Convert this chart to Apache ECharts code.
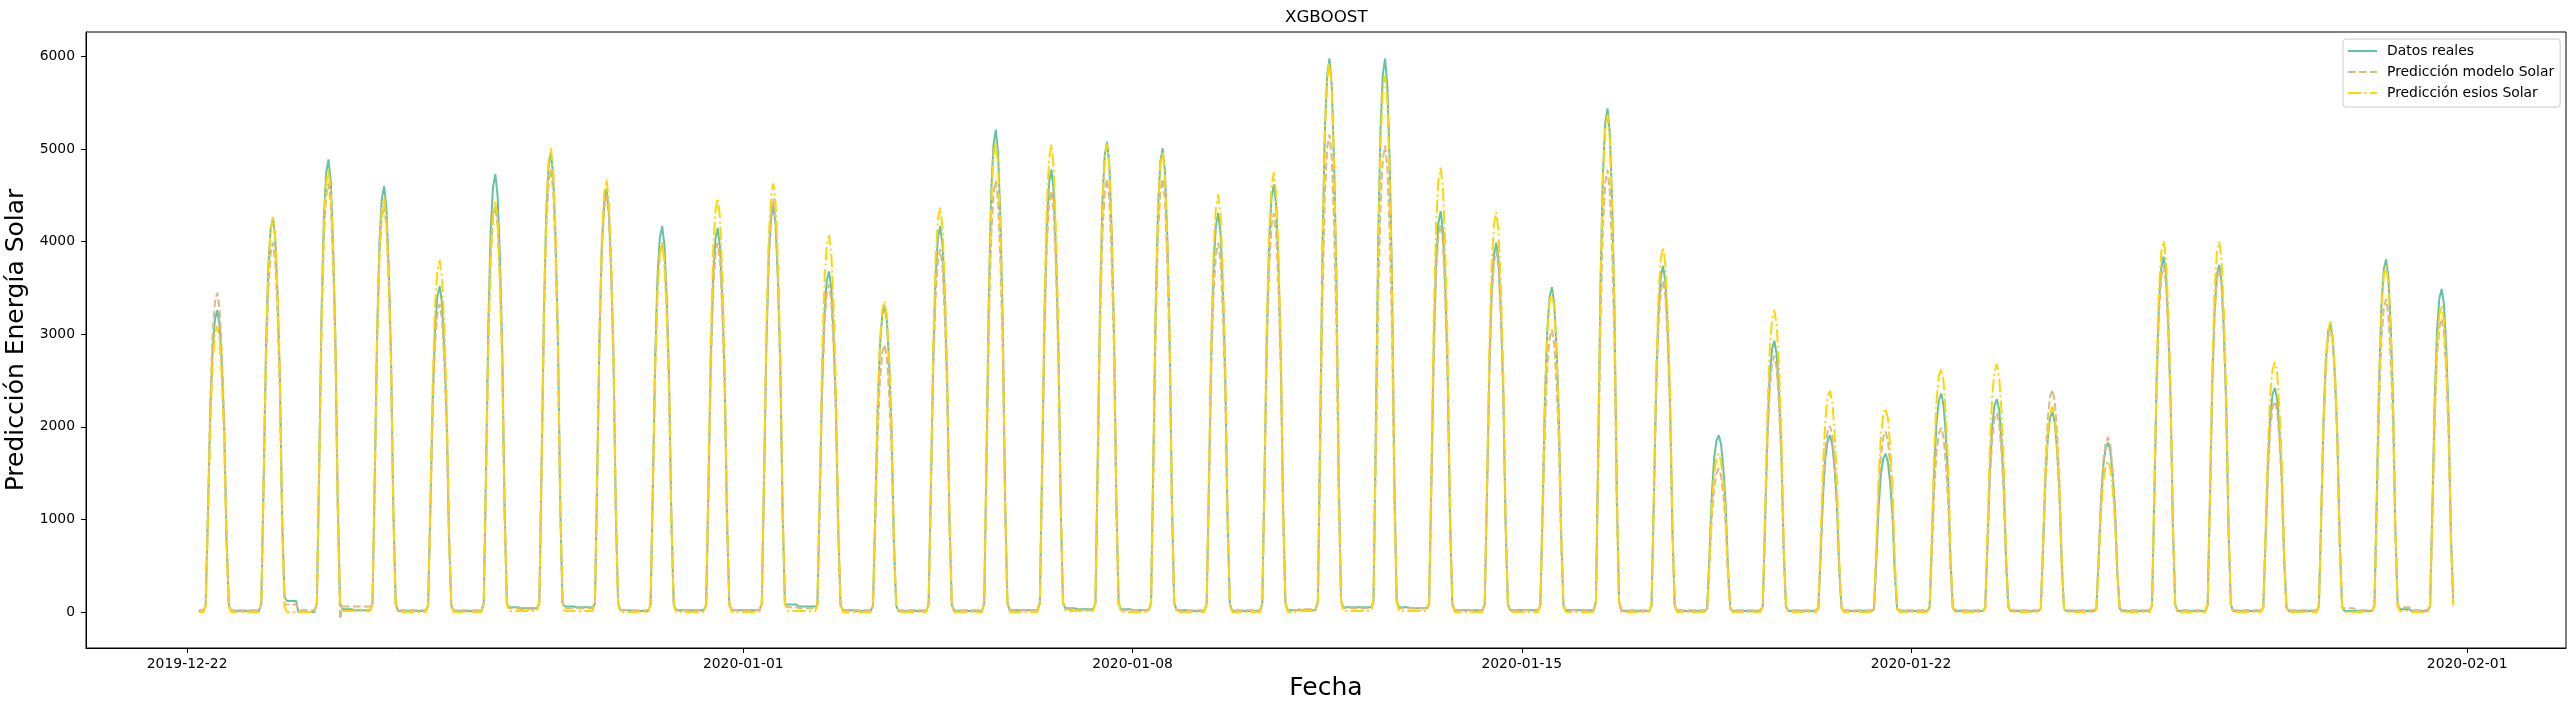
<!DOCTYPE html>
<html>
<head>
<meta charset="utf-8">
<script src="https://cdn.jsdelivr.net/npm/echarts@6.0.0/dist/echarts.min.js"></script>
<style>
  html, body { margin: 0; padding: 0; background: #fff; }
  #chart { width: 2575px; height: 711px; }
</style>
</head>
<body>
<div id="chart"></div>
<script>
// x values are hours counted from 2019-12-22 00:00 (hourly data, 12-22 05:00 .. 01-31 18:00)
const dayHours = [8, 9, 10, 11, 12, 13, 14, 15, 16, 17, 18];
const tickHours = [0, 240, 408, 576, 744, 984];
const tickLabels = ['2019-12-22', '2020-01-01', '2020-01-08', '2020-01-15', '2020-01-22', '2020-02-01'];
const yTicks = [0, 1000, 2000, 3000, 4000, 5000, 6000];

// daylight values (08:00..18:00), one row per day
const realDay = [
  [70,1080,2150,2840,3160,3260,3100,2640,1960,780,70],
  [90,1410,2810,3710,4130,4260,4050,3450,2560,1020,170],
  [100,1610,3230,4250,4740,4890,4650,3960,2930,1170,100],
  [90,1520,3040,4000,4460,4600,4370,3730,2760,1100,90],
  [70,1160,2320,3060,3410,3520,3340,2850,2110,840,70],
  [90,1560,3120,4120,4590,4730,4490,3830,2840,1140,90],
  [100,1640,3270,4320,4810,4960,4710,4020,2980,1190,100],
  [90,1510,3020,3980,4430,4570,4340,3700,2740,1100,90],
  [80,1380,2750,3630,4040,4170,3960,3380,2500,1000,80],
  [80,1370,2740,3610,4030,4150,3940,3360,2490,1000,80],
  [90,1450,2900,3820,4260,4390,4170,3560,2630,1050,90],
  [70,1210,2430,3200,3570,3680,3500,2980,2210,880,70],
  [70,1090,2180,2880,3210,3310,3140,2680,1990,790,70],
  [80,1380,2750,3630,4040,4170,3960,3380,2500,1000,80],
  [100,1720,3440,4530,5050,5210,4950,4220,3130,1250,100],
  [100,1580,3150,4160,4640,4780,4540,3870,2870,1150,100],
  [100,1680,3350,4420,4930,5080,4830,4110,3050,1220,100],
  [100,1650,3310,4360,4860,5010,4760,4060,3010,1200,100],
  [90,1420,2840,3750,4180,4310,4090,3490,2590,1030,90],
  [90,1520,3050,4020,4480,4620,4390,3740,2770,1110,90],
  [120,1970,3950,5200,5800,5980,5680,4840,3590,1440,120],
  [120,1970,3950,5200,5800,5980,5680,4840,3590,1440,120],
  [90,1430,2860,3770,4200,4330,4110,3510,2600,1040,90],
  [80,1320,2630,3470,3870,3990,3790,3230,2390,960,80],
  [70,1160,2320,3050,3400,3510,3330,2840,2110,840,70],
  [110,1800,3590,4730,5280,5440,5170,4410,3260,1310,110],
  [70,1230,2470,3250,3630,3740,3550,3030,2240,900,70],
  [40,630,1260,1660,1850,1910,1810,1550,1150,460,40],
  [60,970,1930,2550,2840,2930,2780,2370,1760,700,60],
  [40,630,1260,1660,1850,1910,1810,1550,1150,460,40],
  [30,560,1130,1490,1660,1710,1620,1390,1030,410,30],
  [50,780,1560,2050,2290,2360,2240,1910,1420,570,50],
  [50,760,1520,2000,2230,2300,2190,1860,1380,550,50],
  [40,710,1430,1880,2100,2160,2050,1750,1300,520,40],
  [40,600,1210,1590,1780,1830,1740,1480,1100,440,40],
  [80,1270,2530,3340,3720,3840,3650,3110,2300,920,80],
  [80,1240,2480,3260,3640,3750,3560,3040,2250,900,80],
  [50,800,1600,2110,2350,2420,2300,1960,1450,580,50],
  [60,1030,2050,2710,3020,3110,2950,2520,1870,750,60],
  [80,1260,2510,3310,3700,3810,3620,3090,2290,910,80],
  [70,1150,2300,3040,3390,3490,3320,2830,2090,840,80]
];
const modelDay = [
  [70,1140,2280,3000,3350,3450,3280,2800,2070,830,70],
  [80,1320,2630,3470,3870,3990,3790,3230,2390,960,80],
  [90,1530,3060,4030,4490,4630,4400,3750,2780,1110,-80],
  [90,1450,2900,3820,4260,4390,4170,3560,2630,1050,90],
  [70,1100,2200,2900,3230,3330,3160,2700,2000,800,70],
  [90,1450,2900,3820,4260,4390,4170,3560,2630,1050,90],
  [100,1580,3150,4160,4640,4780,4540,3870,2870,1150,100],
  [90,1490,2980,3920,4370,4510,4280,3650,2710,1080,90],
  [80,1320,2630,3470,3870,3990,3790,3230,2390,960,80],
  [80,1320,2630,3470,3870,3990,3790,3230,2390,960,80],
  [90,1480,2950,3890,4340,4470,4250,3620,2680,1070,90],
  [70,1170,2340,3080,3430,3540,3360,2870,2120,850,70],
  [60,950,1910,2510,2800,2890,2750,2340,1730,690,60],
  [80,1290,2590,3410,3800,3920,3720,3180,2350,940,80],
  [90,1540,3080,4050,4520,4660,4430,3770,2800,1120,90],
  [90,1500,3000,3960,4410,4550,4320,3690,2730,1090,90],
  [90,1540,3090,4070,4540,4680,4450,3790,2810,1120,90],
  [90,1540,3090,4070,4540,4680,4450,3790,2810,1120,90],
  [80,1320,2630,3470,3870,3990,3790,3230,2390,960,80],
  [90,1420,2840,3750,4180,4310,4090,3490,2590,1030,90],
  [100,1700,3410,4490,5010,5160,4900,4180,3100,1240,100],
  [100,1660,3330,4380,4890,5040,4790,4080,3020,1210,100],
  [80,1380,2770,3650,4060,4190,3980,3390,2510,1010,80],
  [80,1290,2570,3390,3780,3900,3710,3160,2340,940,80],
  [60,1010,2010,2650,2960,3050,2900,2470,1830,730,60],
  [100,1580,3150,4160,4640,4780,4540,3870,2870,1150,100],
  [70,1180,2360,3110,3470,3580,3400,2900,2150,860,70],
  [30,510,1020,1350,1500,1550,1470,1260,930,370,30],
  [60,910,1830,2410,2690,2770,2630,2240,1660,660,60],
  [40,660,1330,1750,1950,2010,1910,1630,1210,480,40],
  [40,640,1290,1700,1890,1950,1850,1580,1170,470,40],
  [40,660,1310,1730,1930,1990,1890,1610,1190,480,40],
  [40,710,1420,1870,2090,2150,2040,1740,1290,520,40],
  [50,790,1580,2090,2330,2400,2280,1940,1440,580,50],
  [40,620,1250,1640,1830,1890,1800,1530,1130,450,40],
  [70,1230,2470,3250,3630,3740,3550,3030,2240,900,70],
  [70,1220,2440,3220,3590,3700,3520,3000,2220,890,70],
  [50,750,1500,1980,2210,2280,2170,1850,1370,550,50],
  [60,1010,2010,2650,2960,3050,2900,2470,1830,730,60],
  [70,1120,2230,2940,3280,3380,3210,2740,2030,810,70],
  [60,1050,2090,2760,3070,3170,3010,2570,1900,760,160]
];
const esiosDay = [
  [60,1020,2040,2690,3000,3090,2940,2500,1850,740,60],
  [90,1410,2810,3710,4130,4260,4050,3450,2560,1020,60],
  [100,1580,3150,4160,4640,4780,4540,3870,2870,1150,100],
  [90,1480,2950,3890,4340,4470,4250,3620,2680,1070,90],
  [80,1250,2510,3310,3690,3800,3610,3080,2280,910,80],
  [90,1460,2920,3850,4300,4430,4210,3590,2660,1060,90],
  [100,1650,3310,4360,4860,5010,4760,4060,3010,1200,100],
  [90,1540,3080,4060,4530,4670,4440,3780,2800,1120,90],
  [80,1320,2630,3470,3870,3990,3790,3230,2390,960,80],
  [90,1480,2950,3890,4340,4470,4250,3620,2680,1070,90],
  [90,1530,3060,4030,4490,4630,4400,3750,2780,1110,90],
  [80,1340,2690,3540,3950,4070,3870,3300,2440,980,80],
  [70,1110,2220,2920,3260,3360,3190,2720,2020,810,70],
  [90,1440,2880,3800,4240,4370,4150,3540,2620,1050,90],
  [100,1680,3350,4420,4930,5080,4830,4110,3050,1220,100],
  [100,1670,3330,4390,4900,5050,4800,4090,3030,1210,100],
  [100,1670,3340,4400,4910,5060,4810,4100,3040,1210,100],
  [100,1640,3290,4330,4830,4980,4730,4030,2990,1200,100],
  [90,1490,2980,3920,4370,4510,4280,3650,2710,1080,90],
  [100,1570,3140,4130,4610,4750,4510,3850,2850,1140,100],
  [120,1960,3920,5170,5760,5940,5640,4810,3560,1430,120],
  [120,1910,3820,5040,5620,5790,5500,4690,3470,1390,120],
  [100,1580,3170,4180,4660,4800,4560,3890,2880,1150,100],
  [90,1430,2850,3760,4190,4320,4100,3500,2590,1040,90],
  [70,1140,2280,3000,3350,3450,3280,2800,2070,830,70],
  [110,1770,3540,4670,5210,5370,5100,4350,3220,1290,110],
  [80,1300,2600,3430,3820,3940,3740,3190,2360,950,80],
  [30,560,1130,1490,1660,1710,1620,1390,1030,410,30],
  [70,1080,2150,2840,3160,3260,3100,2640,1960,780,70],
  [50,790,1580,2080,2320,2390,2270,1940,1430,570,50],
  [40,730,1450,1910,2130,2200,2090,1780,1320,530,40],
  [50,870,1740,2290,2550,2630,2500,2130,1580,630,50],
  [50,880,1770,2330,2600,2680,2550,2170,1610,640,50],
  [40,730,1470,1930,2150,2220,2110,1800,1330,530,40],
  [30,540,1080,1420,1580,1630,1550,1320,980,390,30],
  [80,1320,2650,3490,3890,4010,3810,3250,2410,960,80],
  [80,1320,2640,3480,3880,4000,3800,3240,2400,960,80],
  [50,890,1780,2350,2620,2700,2570,2190,1620,650,50],
  [60,1040,2070,2730,3050,3140,2980,2540,1880,750,60],
  [70,1230,2470,3250,3630,3740,3550,3030,2240,900,70],
  [70,1090,2180,2880,3210,3310,3140,2680,1990,790,70]
];

// flat night levels: 00:00..07:00 of each day, and 19:00..23:00 of each day
const realMorning = [10,10,0,20,10,10,40,50,10,20,20,60,10,10,10,20,30,20,10,10,20,50,40,20,20,20,10,10,10,10,10,10,10,10,10,10,10,10,10,10,10];
const realEvening = [10,120,30,10,10,50,60,20,20,20,80,20,10,10,20,40,30,20,10,20,50,50,20,20,20,10,10,10,10,10,10,10,10,10,10,10,10,10,10,30,10];
const modelMorning = [20,20,20,60,20,20,30,40,20,20,20,40,20,20,20,20,20,20,20,20,30,40,40,20,20,20,20,20,20,20,20,20,20,20,20,20,20,20,20,20,20];
const modelEvening = [20,80,60,20,20,40,40,20,20,20,50,20,20,20,20,30,20,20,20,20,40,40,20,20,20,20,20,20,20,20,20,20,20,20,20,20,20,20,40,50,20];
const esiosMorning = [0,0,0,10,0,0,10,10,0,0,0,10,0,0,0,0,10,0,0,0,10,10,10,0,0,0,0,0,0,0,0,0,0,0,0,0,0,0,0,0,0];
const esiosEvening = [0,0,10,0,0,10,10,0,0,0,10,0,0,0,0,10,0,0,0,0,10,10,0,0,0,0,0,0,0,0,0,0,0,0,0,0,0,0,0,10,0];

// glue the per-day blocks into one hourly [x, y] list
function buildSeries(day, morning, evening) {
  const pts = [];
  for (let d = 0; d < day.length; d++) {
    const base = d * 24;
    for (let h = d === 0 ? 5 : 0; h < 8; h++) pts.push([base + h, morning[d]]);
    day[d].forEach((v, i) => pts.push([base + dayHours[i], v]));
    if (d < day.length - 1) {
      for (let h = 19; h < 24; h++) pts.push([base + h, evening[d]]);
    }
  }
  return pts;
}

const font = 'DejaVu Sans';
const chart = echarts.init(document.getElementById('chart'), null, { renderer: 'canvas' });

chart.setOption({
  animation: false,
  backgroundColor: '#ffffff',
  textStyle: { fontFamily: font },
  title: {
    text: 'XGBOOST',
    left: 1285,
    top: 9,
    padding: 0,
    textStyle: { fontFamily: font, fontSize: 16.7, fontWeight: 'normal', color: '#000' }
  },
  legend: {
    orient: 'vertical',
    left: 2343,
    top: 39,
    padding: [5, 6, 7, 4],
    itemWidth: 29,
    itemHeight: 14,
    itemGap: 7,
    // only the line sample, no marker in the middle
    itemStyle: { opacity: 0 },
    backgroundColor: 'rgba(255,255,255,0.8)',
    borderColor: '#cccccc',
    borderWidth: 1,
    borderRadius: 3,
    textStyle: { fontFamily: font, fontSize: 13.9, color: '#000', padding: [0, 0, 0, 5] },
    data: ['Datos reales', 'Predicción modelo Solar', 'Predicción esios Solar']
  },
  grid: {
    left: 86,
    right: 9,
    top: 32,
    bottom: 63,
    show: true,
    borderColor: '#000',
    borderWidth: 1,
    outerBoundsMode: 'none'
  },
  xAxis: {
    type: 'value',
    min: -43.65,
    max: 1026.65,
    axisLine: { show: true, onZero: false, lineStyle: { color: '#000', width: 1 } },
    axisTick: { show: true, inside: false, length: 5, customValues: tickHours, lineStyle: { color: '#000', width: 1 } },
    axisLabel: {
      customValues: tickHours,
      formatter: v => tickLabels[tickHours.indexOf(v)],
      color: '#000',
      fontFamily: font,
      fontSize: 13.9,
      margin: 9
    },
    splitLine: { show: false },
    name: 'Fecha',
    nameLocation: 'middle',
    nameGap: 26,
    nameTextStyle: { fontFamily: font, fontSize: 25, color: '#000' }
  },
  yAxis: {
    type: 'value',
    min: -389,
    max: 6266,
    axisLine: { show: true, onZero: false, lineStyle: { color: '#000', width: 1 } },
    axisTick: { show: true, inside: false, length: 5, customValues: yTicks, lineStyle: { color: '#000', width: 1 } },
    axisLabel: {
      customValues: yTicks,
      formatter: v => String(v),
      color: '#000',
      fontFamily: font,
      fontSize: 13.9,
      margin: 11
    },
    splitLine: { show: false },
    name: 'Predicción Energía Solar',
    nameLocation: 'middle',
    nameGap: 45,
    nameRotate: 90,
    nameTextStyle: { fontFamily: font, fontSize: 25, color: '#000' }
  },
  series: [
    {
      name: 'Datos reales',
      type: 'line',
      symbol: 'none',
      silent: true,
      data: buildSeries(realDay, realMorning, realEvening),
      itemStyle: { color: '#66c2a5' },
      lineStyle: { color: '#66c2a5', width: 2 }
    },
    {
      name: 'Predicción modelo Solar',
      type: 'line',
      symbol: 'none',
      silent: true,
      data: buildSeries(modelDay, modelMorning, modelEvening),
      itemStyle: { color: '#deb887' },
      lineStyle: { color: '#deb887', width: 2, type: [7.7, 3.3] }
    },
    {
      name: 'Predicción esios Solar',
      type: 'line',
      symbol: 'none',
      silent: true,
      data: buildSeries(esiosDay, esiosMorning, esiosEvening),
      itemStyle: { color: '#ffd700' },
      lineStyle: { color: '#ffd700', width: 2, type: [13.3, 3.3, 2.1, 3.3] }
    }
  ]
});
</script>
</body>
</html>
